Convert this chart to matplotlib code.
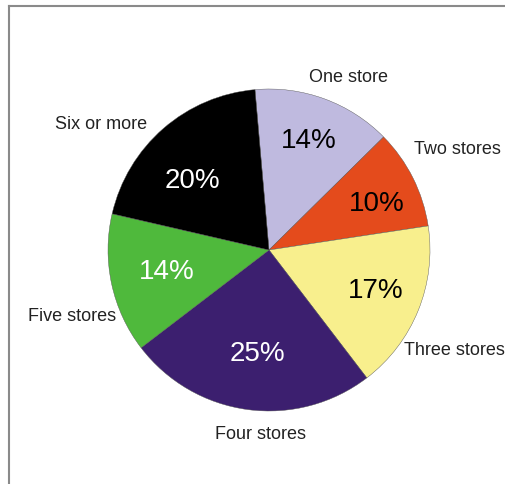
import numpy as np
import matplotlib.pyplot as plt
from matplotlib.lines import Line2D

plt.rcParams['font.family'] = ['Liberation Sans', 'DejaVu Sans']

categories = ["One store", "Two stores", "Three stores", "Four stores", "Five stores", "Six or more"]
shares = [14, 10, 17, 25, 14, 20]
colors = ["#bfbadf", "#e44b1c", "#f8ef8d", "#3c1f6f", "#4fb93c", "#000000"]
pct_colors = ["black", "black", "black", "white", "white", "white"]

# label placement: (angle shift from wedge middle in degrees, radius in pie radii)
label_layout = [(-4.7, 1.18), (1.5, 1.33), (-6.5, 1.31), (5.1, 1.15), (6.6, 1.29), (12.3, 1.30)]
pct_layout = [(0, 0.72), (-3.3, 0.73), (1, 0.71), (1.5, 0.65), (0, 0.65), (7, 0.64)]

W, H = 506, 484
cx, cy, R = 269, 250, 161
fig = plt.figure(figsize=(W / 100, H / 100), dpi=100)
ax = fig.add_axes([(cx - R) / W, (H - cy - R) / H, 2 * R / W, 2 * R / H])

wedges, _ = ax.pie(shares, colors=colors, startangle=95, counterclock=False,
                   radius=1, wedgeprops=dict(edgecolor="#555555", linewidth=0.3))
ax.set_xlim(-1, 1)
ax.set_ylim(-1, 1)
ax.set_aspect("equal")
ax.axis("off")

for w, name, val, tc, (dang, rl), (pang, rp) in zip(wedges, categories, shares, pct_colors,
                                                      label_layout, pct_layout):
    mid = (w.theta1 + w.theta2) / 2
    p = np.deg2rad(mid + pang)
    ax.text(rp * np.cos(p), rp * np.sin(p), f"{val}%", color=tc,
            fontsize=20, ha="center", va="center")
    a = np.deg2rad(mid + dang)
    ax.text(rl * np.cos(a), rl * np.sin(a), name, color="#222222",
            fontsize=13, ha="center", va="center")

# frame line on the left and top edges
fig.add_artist(Line2D([8.5 / W, 8.5 / W], [0, 1 - 5.5 / H], color="#8a8a8a", lw=1.5))
fig.add_artist(Line2D([8.5 / W, 1], [1 - 5.5 / H, 1 - 5.5 / H], color="#8a8a8a", lw=1.5))

fig.savefig("out.png", dpi=100)
